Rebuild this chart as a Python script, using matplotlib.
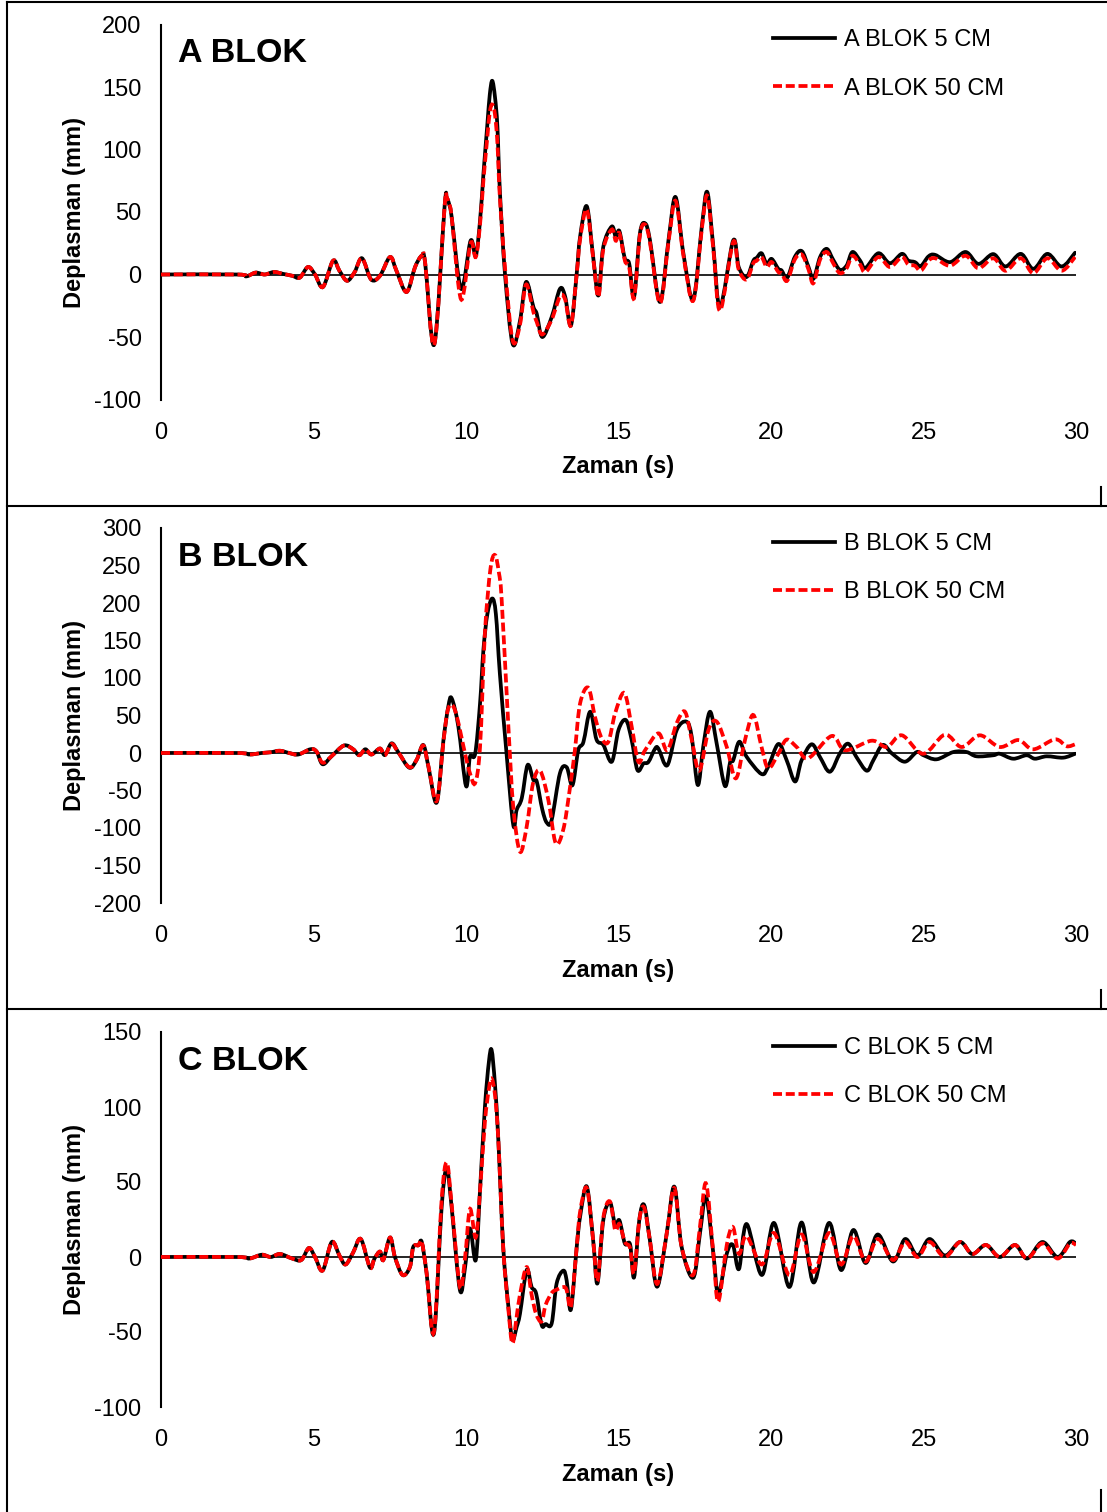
import matplotlib
matplotlib.use("Agg")
import matplotlib.pyplot as plt
from matplotlib.lines import Line2D
from matplotlib.path import Path
from matplotlib.patches import PathPatch

plt.rcParams['font.family'] = ['Liberation Sans', 'DejaVu Sans']
plt.rcParams['axes.unicode_minus'] = False

# ---- A BLOK ----
ta = [0, 2.5, 2.8, 3.1, 3.4, 3.7, 4.0, 4.3, 4.55, 4.82, 5.05, 5.31, 5.64, 5.85, 6.1, 6.35,
      6.59, 6.89, 7.18, 7.51, 7.72, 8.05, 8.33, 8.55, 8.66, 8.96, 9.30, 9.37, 9.45, 9.53,
      9.84, 10.15, 10.32, 10.46, 10.57, 10.70, 10.78, 10.86, 10.95, 11.03, 11.11, 11.28,
      11.53, 11.77, 11.97, 12.21, 12.32, 12.5, 12.81, 13.08, 13.25, 13.44, 13.63, 13.74,
      13.96, 14.17, 14.34, 14.5, 14.78, 14.91, 15.03, 15.21, 15.35, 15.51, 15.70, 15.87,
      16.03, 16.36, 16.64, 16.87, 17.13, 17.45, 17.73, 17.91, 18.11, 18.33, 18.76, 18.94,
      19.2, 19.42, 19.53, 19.69, 19.86, 20.02, 20.24, 20.35, 20.53, 20.78, 21.01, 21.23,
      21.39, 21.61, 21.83, 22.04, 22.26, 22.48, 22.67, 22.92, 23.1, 23.52, 23.9, 24.29,
      24.5, 24.72, 24.91, 25.16, 25.38, 25.87, 26.38, 26.8, 27.29, 27.69, 28.19, 28.6,
      29.06, 29.53, 29.97]
a_5cm = [0, 0, -1.5, 1.5, 0, 2, 0.5, -1, -2.5, 6, 0, -10, 11, 3, -5, 2,
         13, -4, -1, 14, 3, -14, 6, 15, 9.6, -56, 55, 61, 56, 46,
         -11.5, 27, 15, 43, 80, 120, 144, 155, 142, 118, 67, 0,
         -55.5, -37, -6, -26, -31.5, -50, -34, -11.5, -17.6, -40.8, 0.8, 30,
         54.6, 14, -16.8, 22, 38.4, 30, 34.7, 12.5, 8.8, -18, 32.5, 41,
         27.7, -22, 27.7, 62, 16.5, -20, 38, 66, 22, -26, 27.2, 6,
         -2, 11, 13.3, 17, 8.5, 12.5, 4.5, 3.2, -2.7, 14, 18.7, 6,
         -3.5, 14, 20.5, 11.7, 3.7, 7.2, 18, 11.2, 5.3, 17, 9, 16.5,
         11.2, 9.9, 6.7, 14.4, 15.7, 9.9, 18, 8.5, 16.3, 6.4, 16.5, 4.5,
         16.5, 6.4, 17.4]
a_50cm = [0, 0, -1.5, 1.5, 0, 2, 0.5, -1, -2.5, 6, 0, -10, 11, 3, -5, 2,
          13, -4, -1, 14, 3, -14, 6, 15, 9.6, -56, 55, 61, 56, 46,
          -20, 25, 14, 40, 75, 110, 130, 136, 128, 105, 62, 5,
          -53, -40, -8, -30, -38, -48, -36, -17.6, -20, -40.8, 0.8, 28,
          52, 13, -18, 20, 36, 27, 33, 11, 6, -19, 31, 40,
          26, -23, 26, 59, 15, -21, 36, 63, 20, -29, 26, 4,
          -4, 9, 11, 14, 6, 10, 2, 1, -5, 12, 16, 4,
          -7, 12, 18, 9, 1, 5, 15, 8, 2, 14, 6, 14,
          8, 7, 3, 11, 13, 7, 15, 5, 13, 3, 13, 1,
          13, 3, 14]

# ---- B BLOK ----
tb_5 = [0, 2.5, 2.9, 3.3, 3.6, 3.9, 4.2, 4.5, 4.9, 5.1, 5.3, 5.6, 6.0, 6.3, 6.5, 6.7, 6.9,
        7.18, 7.34, 7.56, 7.78, 8.14, 8.38, 8.6, 8.77, 9.04, 9.26, 9.42, 9.53, 9.75, 10.0,
        10.13, 10.3, 10.46, 10.57, 10.7, 10.86, 10.98, 11.11, 11.33, 11.55, 11.66, 11.83,
        12.02, 12.21, 12.32, 12.5, 12.65, 12.81, 13.08, 13.3, 13.49, 13.68, 13.85, 14.07,
        14.28, 14.5, 14.78, 15.0, 15.24, 15.43, 15.62, 15.82, 15.98, 16.2, 16.31, 16.6,
        16.91, 17.23, 17.4, 17.6, 17.78, 18.0, 18.22, 18.49, 18.66, 18.76, 18.96, 19.2,
        19.69, 19.91, 20.24, 20.51, 20.79, 21.0, 21.33, 21.6, 21.93, 22.26, 22.53, 22.8,
        23.14, 23.36, 23.66, 23.96, 24.39, 24.78, 25.0, 25.43, 25.98, 26.41, 26.74, 27.29,
        27.5, 27.94, 28.38, 28.65, 29.04, 29.58, 29.97]
b_5cm = [0, 0, -2, 0, 1, 3, 0, -2, 5, 2, -15, -4, 10, 5, -3, 5, -2,
         6, -2.7, 12.9, 1, -19.6, -9.3, 10.7, -18.7, -66, 17, 62, 73, 35, -44,
         -5, -1, 66, 137, 185, 206, 185, 106, -1, -96, -76, -60,
         -16, -36, -38, -75, -93, -89, -27, -19, -43, 3.6, 14.7, 55,
         17.8, 11, -11.6, 30.7, 44, 17.8, -22.7, -14, -12, 5.8, 5.8, -16.4,
         30.7, 41.8, 21.8, -42.7, 9, 55, 12.4, -44, -12, -9.8, 15, -5,
         -28, -18, 12, -9.3, -38, -10, 11.6, -5, -25, -0.4, 12.4, -5.3,
         -23.6, -9.3, 10.7, -0.4, -11.6, 1.3, -3, -8.4, 1.3, 1.3, -4.4, -3,
         -1, -7.6, -3, -7.6, -4.4, -6.2, -1]
tb_50 = [0, 2.5, 2.9, 3.3, 3.6, 3.9, 4.2, 4.5, 4.9, 5.1, 5.3, 5.6, 6.0, 6.3, 6.5, 6.7, 6.9,
         7.18, 7.34, 7.56, 7.78, 8.14, 8.38, 8.6, 8.77, 9.04, 9.26, 9.42, 9.64, 9.97, 10.13,
         10.3, 10.46, 10.62, 10.8, 10.95, 11.08, 11.17, 11.39, 11.55, 11.77, 11.99, 12.2,
         12.43, 12.7, 12.94, 13.19, 13.4, 13.57, 13.74, 14.01, 14.23, 14.45, 14.67, 14.89,
         15.19, 15.43, 15.65, 15.87, 16.31, 16.6, 16.91, 17.18, 17.4, 17.65, 17.95, 18.22,
         18.55, 18.85, 19.15, 19.42, 19.69, 19.91, 20.24, 20.51, 20.84, 21.22, 21.99, 22.43,
         23.3, 23.8, 24.29, 24.99, 25.7, 26.25, 26.85, 27.5, 28.11, 28.6, 29.31, 29.69, 29.97]
b_50cm = [0, 0, -2, 0, 1, 3, 0, -2, 5, 2, -13, -4, 10, 5, -3, 5, -2,
          6, -3, 12, 1, -19, -9, 10, -18, -64, 15, 59.6, 57, -1, -27,
          -40, 8, 160, 245, 264, 240, 204, 35, -72, -131.6, -98, -40,
          -23.6, -62.7, -120, -102, -49, 3.6, 66, 87, 48, 19.6, 15, 53,
          80, 35.6, -11.6, 3.6, 26.2, 3.6, 40, 55, 17.8, -23.6, 30.7, 41.8,
          8, -33.8, 17.8, 50.7, 8, -20.4, -1, 17.8, 8, -7, 22.7, 3.6,
          16.4, 8, 23.6, -1, 24.4, 8, 23.6, 8, 17.3, 4.9, 18.2, 9, 11.6]

# ---- C BLOK ----
tc = [0, 2.5, 2.9, 3.3, 3.6, 3.9, 4.3, 4.6, 4.85, 5.05, 5.3, 5.6, 5.85, 6.05, 6.3, 6.55,
      6.85, 7.0, 7.18, 7.29, 7.51, 7.67, 7.92, 8.16, 8.27, 8.44, 8.55, 8.71, 8.95, 9.2,
      9.37, 9.53, 9.8, 9.97, 10.13, 10.32, 10.46, 10.62, 10.75, 10.84, 10.95, 11.06,
      11.22, 11.39, 11.52, 11.66, 11.77, 11.99, 12.15, 12.3, 12.48, 12.61, 12.81, 12.97,
      13.19, 13.3, 13.44, 13.63, 13.74, 13.96, 14.17, 14.31, 14.5, 14.72, 14.89, 15.03,
      15.21, 15.38, 15.51, 15.68, 15.84, 16.03, 16.27, 16.58, 16.83, 17.07, 17.45, 17.67,
      17.87, 18.11, 18.27, 18.55, 18.75, 18.95, 19.2, 19.7, 20.1, 20.6, 21.0, 21.4, 21.9,
      22.3, 22.7, 23.1, 23.5, 24.0, 24.4, 24.8, 25.2, 25.7, 26.2, 26.6, 27.05, 27.5, 28.0,
      28.4, 28.9, 29.4, 29.8, 30.0]
c_5cm = [0, 0, -1, 1.5, 0, 2, -1, -2, 6, 0, -9, 10, 1, -5, 3, 12,
         -7, -1, 3.6, -2, 13, 0, -12, -6.7, 6.7, 7.8, 10, -11, -51, 33,
         59, 33, -22, -6.7, 19, -2, 44.7, 100, 130, 138, 115, 78,
         6.7, -33, -55, -46.7, -37.8, -8.7, -20, -24.4, -45.3, -44.7, -44.2, -17.8,
         -9.1, -15.6, -35, 6.7, 26.7, 47, 11, -17.6, 24.4, 36.4, 21.1, 24.4,
         8.9, 8.4, -13.6, 24.4, 34.7, 11.1, -19.8, 15.6, 46.9, 6.7, -13.8, 15.6,
         40.2, 2.2, -24.7, 2.2, 8, -8, 22, -12, 22.7, -20, 23, -17, 22.7,
         -8.7, 18, -4, 15, -3, 12, 1, 12, 1, 10, 2, 8, 0, 8,
         -1, 10, 0, 10, 9]
c_50cm = [0, 0, -1, 1.5, 0, 2, -1, -2, 6, 0, -9, 10, 1, -5, 3, 12,
          -7, -1, 3.6, -2, 13, 0, -12, -6.7, 6.7, 7.8, 10, -11, -50, 38,
          63, 35, -20, 0, 32, 13, 44, 90, 112, 119, 108, 78,
          6, -35, -57.6, -40, -25, -6.7, -25, -38, -43, -32, -24, -21.8,
          -20, -22, -33, 6.7, 30, 46, 11, -16, 26, 37, 18, 22,
          10, 6, -11, 24.4, 33, 11.1, -18, 15.6, 46, 6.7, -12, 20,
          49, 2.2, -29.8, 8, 20, 2, 14, -5, 16, -12, 15, -10, 16,
          -5, 14, -3, 12, -2, 10, 0, 10, 0, 10, 2, 8, 0, 8,
          -1, 9, -1, 9, 8]

panels = [
    ("A BLOK", ta, a_5cm, ta, a_50cm, (-100, 200), [-100, -50, 0, 50, 100, 150, 200]),
    ("B BLOK", tb_5, b_5cm, tb_50, b_50cm, (-200, 300), [-200, -150, -100, -50, 0, 50, 100, 150, 200, 250, 300]),
    ("C BLOK", tc, c_5cm, tc, c_50cm, (-100, 150), [-100, -50, 0, 50, 100, 150]),
]


def smooth_path(t, y):
    # Excel style "smoothed line": cubic Bezier segments through the data points
    n = len(t)
    verts = [(t[0], y[0])]
    codes = [Path.MOVETO]
    for i in range(n - 1):
        i0 = max(i - 1, 0)
        i3 = min(i + 2, n - 1)
        c1 = (t[i] + (t[i + 1] - t[i0]) / 6, y[i] + (y[i + 1] - y[i0]) / 6)
        c2 = (t[i + 1] - (t[i3] - t[i]) / 6, y[i + 1] - (y[i3] - y[i]) / 6)
        verts += [c1, c2, (t[i + 1], y[i + 1])]
        codes += [Path.CURVE4] * 3
    return Path(verts, codes)


W, H = 1107, 1512
fig = plt.figure(figsize=(W / 100, H / 100), dpi=100)

ax_px = [(24.5, 399.5), (528, 903), (1032, 1407)]
left_px, right_px = 161, 1076
LW = 2.7
DASH = (2.4, 1.0)

for (name, t1, y1, t2, y2, ylim, yt), (top, bot) in zip(panels, ax_px):
    ax = fig.add_axes([left_px / W, 1 - bot / H, (right_px - left_px) / W, (bot - top) / H])
    ax.add_patch(PathPatch(smooth_path(t1, y1), fill=False, edgecolor='black', lw=LW,
                           joinstyle='round', capstyle='round', zorder=3))
    ax.add_patch(PathPatch(smooth_path(t2, y2), fill=False, edgecolor='#ff0000', lw=LW,
                           linestyle=(0, DASH), zorder=4))
    ax.axhline(0, color='black', lw=1.2, zorder=2)
    ax.set_xlim(0, 30)
    ax.set_ylim(*ylim)
    ax.set_xticks(range(0, 31, 5))
    ax.set_yticks(yt)
    for s in ['top', 'right', 'bottom']:
        ax.spines[s].set_visible(False)
    ax.spines['left'].set_linewidth(1.5)
    ax.tick_params(axis='both', length=0, labelsize=17)
    ax.tick_params(axis='x', pad=16)
    ax.tick_params(axis='y', pad=14)
    ax.set_xlabel("Zaman (s)", fontsize=17, fontweight='bold')
    ax.xaxis.set_label_coords(0.5, -0.148)
    ax.set_ylabel("Deplasman (mm)", fontsize=17, fontweight='bold')
    ax.yaxis.set_label_coords(-0.082, 0.5)
    ax.text(0.0186, 0.9, name, transform=ax.transAxes, fontsize=24.5, fontweight='bold',
            va='baseline', ha='left')
    handles = [Line2D([], [], color='black', lw=LW),
               Line2D([], [], color='#ff0000', lw=LW, dashes=DASH)]
    ax.legend(handles, [name + " 5 CM", name + " 50 CM"], loc='upper left',
              bbox_to_anchor=(0.669, 0.987), frameon=False, fontsize=17,
              handlelength=2.6, handletextpad=0.42, labelspacing=1.11, borderpad=0,
              borderaxespad=0)


def fline(x0, y0, x1, y1):
    fig.add_artist(Line2D([x0 / W, x1 / W], [1 - y0 / H, 1 - y1 / H], color='black', lw=1.5,
                          transform=fig.transFigure))


fline(7, 2, 7, H)
for ytop in [2, 506, 1009]:
    fline(7, ytop, W, ytop)
for y0, y1 in [(487, 506), (990, 1009), (1490, H)]:
    fline(1101, y0, 1101, y1)

fig.savefig("out.png", dpi=100)
